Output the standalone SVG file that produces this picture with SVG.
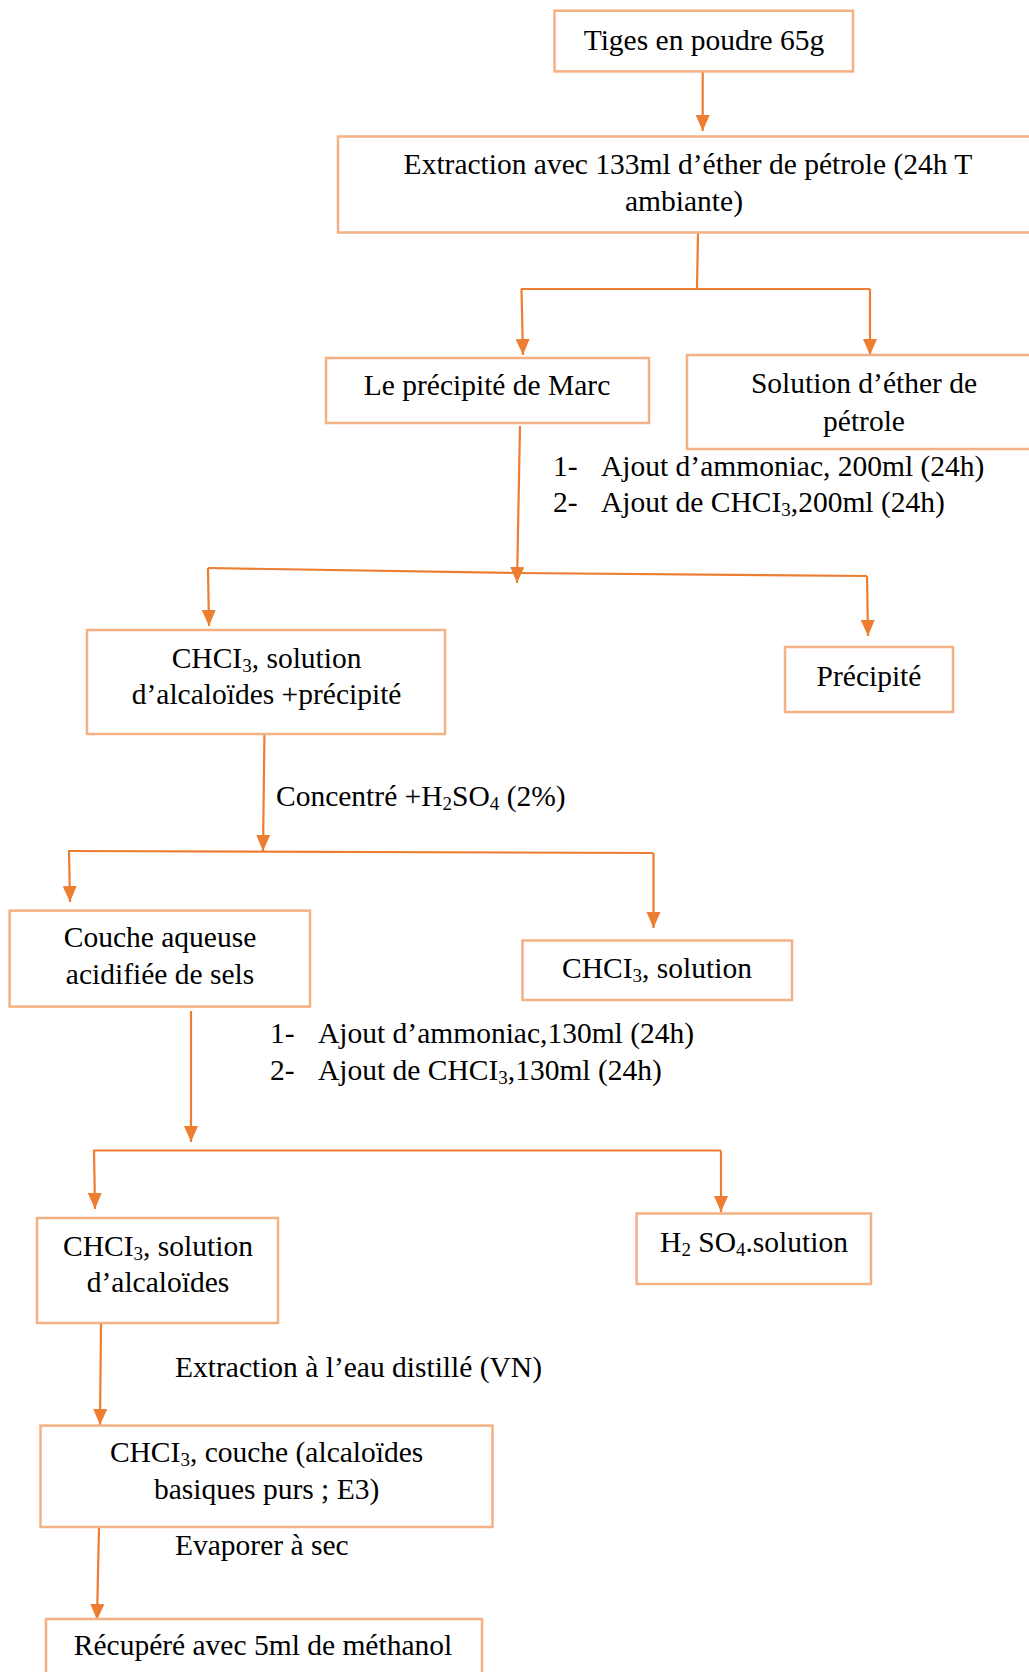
<svg xmlns="http://www.w3.org/2000/svg" width="1029" height="1672" viewBox="0 0 1029 1672">
<style>
.box{fill:#fff;stroke:#F4B183;stroke-width:2.5}
.con{fill:none;stroke:#ED7D31;stroke-width:2.2}
text{font-family:"Liberation Serif","Times New Roman",serif;font-size:29.5px;fill:#000}
.c{text-anchor:middle}
.sub{font-size:19px}
</style>
<defs>
<marker id="ah" markerUnits="userSpaceOnUse" markerWidth="17" markerHeight="15" refX="16" refY="7" orient="auto">
<path d="M0,0 L16,7 L0,14 z" fill="#ED7D31"/>
</marker>
</defs>
<rect width="1029" height="1672" fill="#fff"/>
<g id="connectors">
<line class="con" x1="702.7" y1="71" x2="702.7" y2="131" marker-end="url(#ah)"/>
<line class="con" x1="698" y1="233" x2="697" y2="288"/>
<polyline class="con" points="521,289 870,289"/>
<line class="con" x1="521.5" y1="289" x2="523" y2="355" marker-end="url(#ah)"/>
<line class="con" x1="870" y1="289" x2="870" y2="355" marker-end="url(#ah)"/>
<line class="con" x1="520" y1="426" x2="517" y2="583" marker-end="url(#ah)"/>
<polyline class="con" points="208,568 517,573 867,576"/>
<line class="con" x1="208" y1="568" x2="209" y2="626" marker-end="url(#ah)"/>
<line class="con" x1="867" y1="576" x2="868" y2="636" marker-end="url(#ah)"/>
<line class="con" x1="264.5" y1="730" x2="263" y2="851" marker-end="url(#ah)"/>
<polyline class="con" points="68,851 653,853"/>
<line class="con" x1="69" y1="851" x2="70" y2="902" marker-end="url(#ah)"/>
<line class="con" x1="653.5" y1="853" x2="653.5" y2="928" marker-end="url(#ah)"/>
<line class="con" x1="191" y1="1011" x2="191" y2="1142" marker-end="url(#ah)"/>
<polyline class="con" points="93,1150.5 721,1150.5"/>
<line class="con" x1="94" y1="1150.5" x2="95" y2="1209" marker-end="url(#ah)"/>
<line class="con" x1="721" y1="1151" x2="721" y2="1212" marker-end="url(#ah)"/>
<line class="con" x1="101" y1="1323" x2="100" y2="1425" marker-end="url(#ah)"/>
<line class="con" x1="99" y1="1527" x2="97" y2="1620" marker-end="url(#ah)"/>
</g>
<g id="tiges">
<rect class="box" x="554.5" y="10.7" width="298.5" height="60.7"/>
<text class="c" x="704" y="50">Tiges en poudre 65g</text>
</g>
<g id="extraction">
<rect class="box" x="338" y="136.5" width="700" height="96"/>
<text class="c" x="688" y="174">Extraction avec 133ml d’éther de pétrole (24h T</text>
<text class="c" x="684" y="210.5">ambiante)</text>
</g>
<g id="marc">
<rect class="box" x="326" y="358" width="323" height="65"/>
<text class="c" x="487" y="395">Le précipité de Marc</text>
</g>
<g id="solution-ether">
<rect class="box" x="687" y="355" width="350" height="94"/>
<text class="c" x="864" y="393">Solution d’éther de</text>
<text class="c" x="864" y="431">pétrole</text>
</g>
<g id="step1">
<text x="553" y="476">1-</text>
<text x="601" y="476">Ajout d’ammoniac, 200ml (24h)</text>
<text x="553" y="512">2-</text>
<text x="601" y="512">Ajout de CHCI<tspan class="sub" dy="4">3</tspan><tspan dy="-4">,200ml (24h)</tspan></text>
</g>
<g id="chcl3-alc-prec">
<rect class="box" x="87" y="630" width="358" height="104"/>
<text class="c" x="266.6" y="668">CHCI<tspan class="sub" dy="4">3</tspan><tspan dy="-4">, solution</tspan></text>
<text class="c" x="266.6" y="704">d’alcaloïdes +précipité</text>
</g>
<g id="precipite">
<rect class="box" x="785" y="647" width="168" height="65"/>
<text class="c" x="869" y="686">Précipité</text>
</g>
<g id="label-concentre">
<text x="276" y="806">Concentré +H<tspan class="sub" dy="4">2</tspan><tspan dy="-4">SO</tspan><tspan class="sub" dy="4">4</tspan><tspan dy="-4"> (2%)</tspan></text>
</g>
<g id="couche-aqueuse">
<rect class="box" x="9.6" y="910.6" width="300.4" height="96"/>
<text class="c" x="160" y="947">Couche aqueuse</text>
<text class="c" x="160" y="983.6">acidifiée de sels</text>
</g>
<g id="chcl3-solution">
<rect class="box" x="522.5" y="940.5" width="269.5" height="59.5"/>
<text class="c" x="657" y="978">CHCI<tspan class="sub" dy="4">3</tspan><tspan dy="-4">, solution</tspan></text>
</g>
<g id="step2">
<text x="270" y="1043">1-</text>
<text x="318" y="1043">Ajout d’ammoniac,130ml (24h)</text>
<text x="270" y="1079.6">2-</text>
<text x="318" y="1079.6">Ajout de CHCI<tspan class="sub" dy="4">3</tspan><tspan dy="-4">,130ml (24h)</tspan></text>
</g>
<g id="chcl3-alcaloides">
<rect class="box" x="37" y="1218" width="241" height="105"/>
<text class="c" x="158" y="1255.5">CHCI<tspan class="sub" dy="4">3</tspan><tspan dy="-4">, solution</tspan></text>
<text class="c" x="158" y="1292">d’alcaloïdes</text>
</g>
<g id="h2so4-solution">
<rect class="box" x="636.6" y="1213.5" width="234.4" height="70.5"/>
<text class="c" x="754" y="1252">H<tspan class="sub" dy="4">2</tspan><tspan dy="-4"> SO</tspan><tspan class="sub" dy="4">4</tspan><tspan dy="-4">.solution</tspan></text>
</g>
<g id="label-extraction-eau">
<text x="175" y="1377">Extraction à l’eau distillé (VN)</text>
</g>
<g id="chcl3-couche">
<rect class="box" x="40.5" y="1425.6" width="452" height="101.4"/>
<text class="c" x="266.6" y="1462">CHCI<tspan class="sub" dy="4">3</tspan><tspan dy="-4">, couche (alcaloïdes</tspan></text>
<text class="c" x="266.6" y="1499">basiques purs ; E3)</text>
</g>
<g id="label-evaporer">
<text x="175" y="1555">Evaporer à sec</text>
</g>
<g id="recupere">
<rect class="box" x="46" y="1619" width="436" height="70"/>
<text class="c" x="263" y="1655">Récupéré avec 5ml de méthanol</text>
</g>
</svg>
